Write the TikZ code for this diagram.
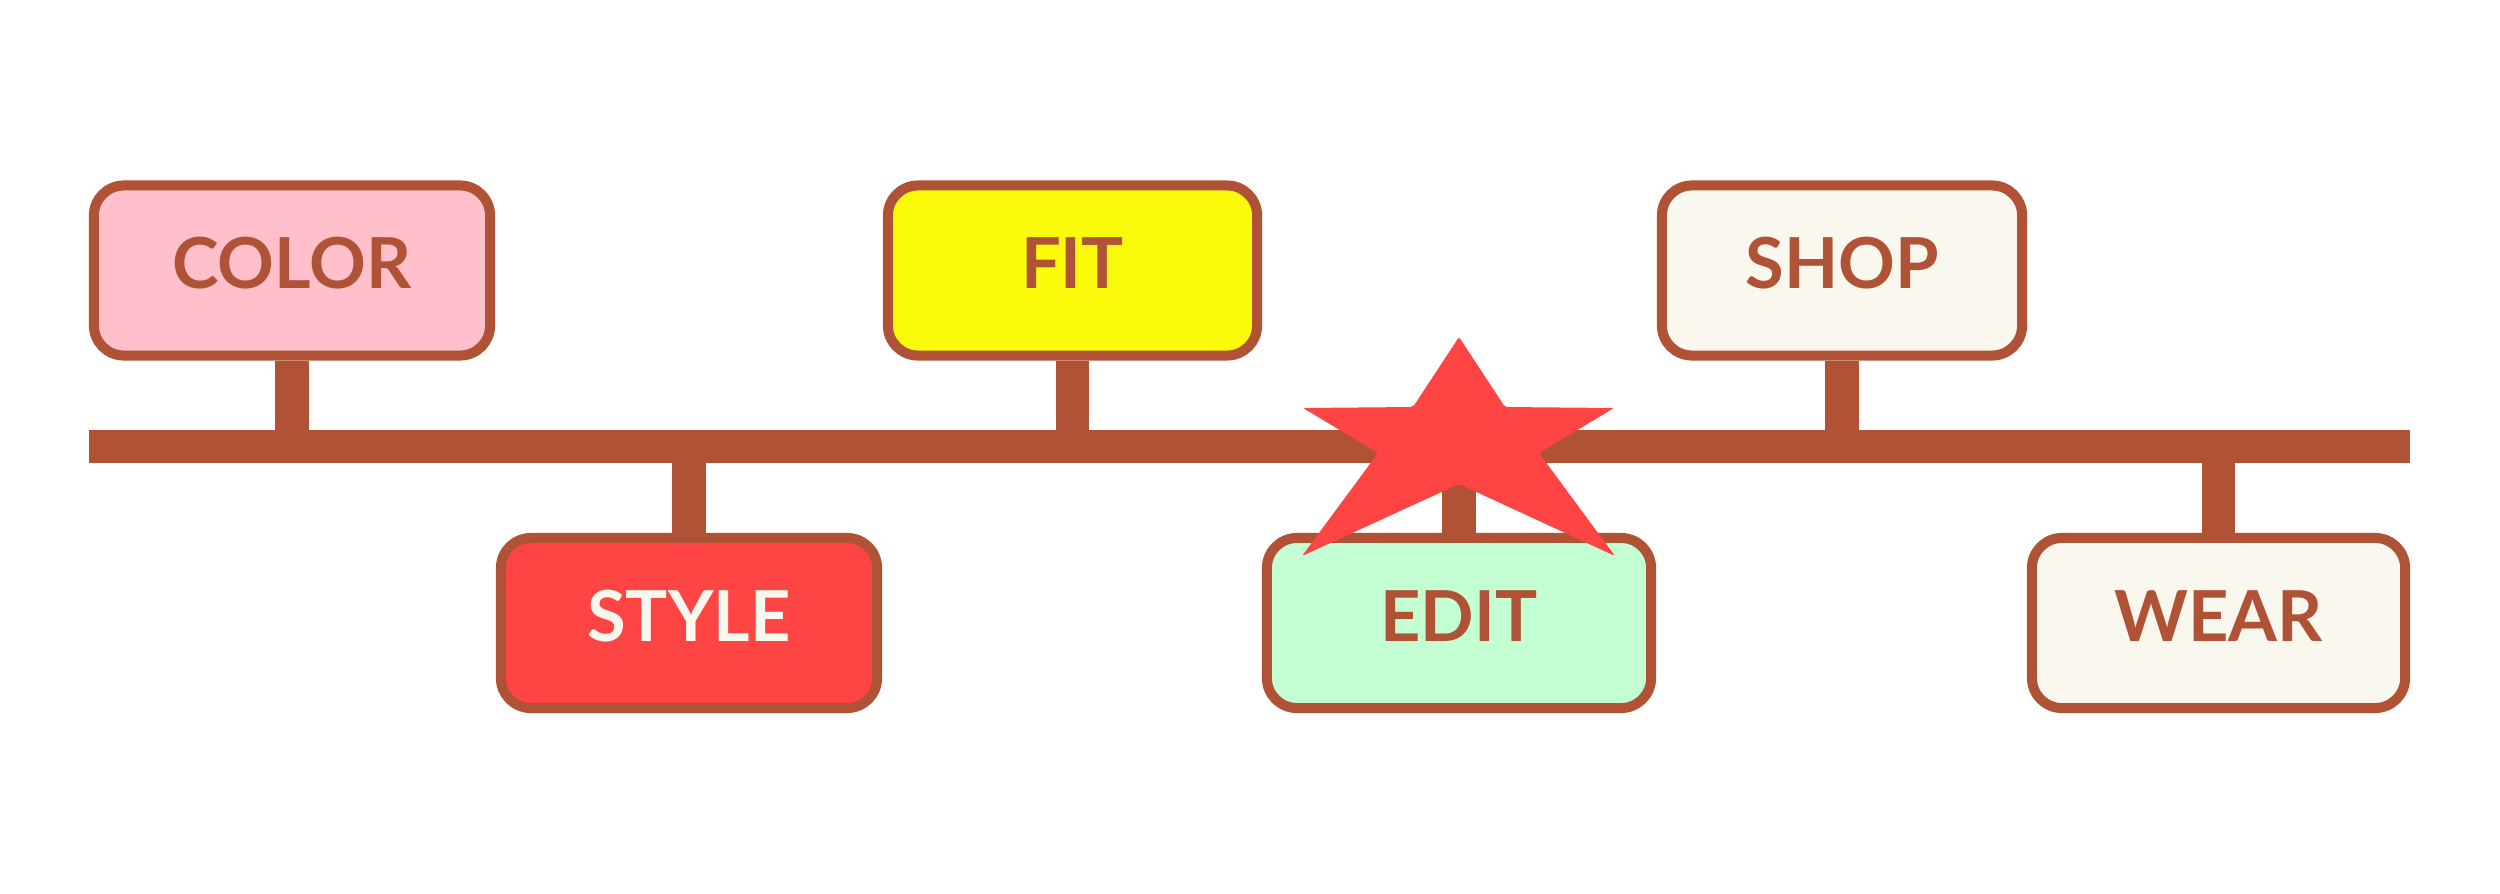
\documentclass[tikz,border=0pt]{standalone}
\usepackage{fontspec}
\setmainfont{Lato}
\usepackage{xcolor}
\usepackage{tikz}
\usetikzlibrary{positioning,backgrounds}
\definecolor{rust}{RGB}{175,82,54}
\definecolor{pinkfill}{RGB}{255,192,203}
\definecolor{yellowfill}{RGB}{250,250,10}
\definecolor{creamfill}{RGB}{250,248,238}
\definecolor{mintfill}{RGB}{196,255,212}
\definecolor{redfill}{RGB}{255,68,68}

\tikzset{
  sign/.style={draw=rust, line width=0.1cm, rounded corners=0.3cm,
    minimum height=1.7cm, inner sep=0pt, text height=0.5cm, text depth=0.14cm,
    font=\fontsize{20}{24}\selectfont\bfseries, text=rust},
  rail/.style={draw=rust, line width=0.33cm},
  post/.style={draw=rust, line width=0.335cm},
}

\begin{document}
\begin{tikzpicture}[x=0.01cm, y=-0.01cm]
    \useasboundingbox (0,0) rectangle (2500,894);
    % signs above the rail
    \node[sign, fill=pinkfill, minimum width=3.96cm] (color) at (292,270.5) {COLOR};
    \node[sign, fill=yellowfill, minimum width=3.69cm] (fit) at (1072.5,270.5) {FIT};
    \node[sign, fill=creamfill, minimum width=3.6cm] (shop) at (1842,270.5) {SHOP};
    % signs below the rail
    \node[sign, fill=redfill, text=creamfill, minimum width=3.76cm] (style) at (689,623) {STYLE};
    \node[sign, fill=mintfill, minimum width=3.84cm] (edit) at (1459,623) {EDIT};
    \node[sign, fill=creamfill, minimum width=3.73cm] (wear) at (2218.5,623) {WEAR};
    \coordinate (railL) at (89,446.5);
    \coordinate (railR) at (2410,446.5);
    \begin{scope}[on background layer]
        \draw[rail] (railL) -- (railR);
        \foreach \s in {color,fit,shop}
            \draw[post] (\s.south) -- (\s.south |- railL);
        \foreach \s in {style,edit,wear}
            \draw[post] (\s.north) -- (\s.north |- railL);
    \end{scope}
    % star on top
    \fill[redfill, rounded corners=0.6pt] (1459,337) -- (1505,407) -- (1614,408) -- (1539,453)
        -- (1615,556) -- (1459,484) -- (1302,556) -- (1378,453) -- (1303,408) -- (1413,407) -- cycle;
\end{tikzpicture}
\end{document}
